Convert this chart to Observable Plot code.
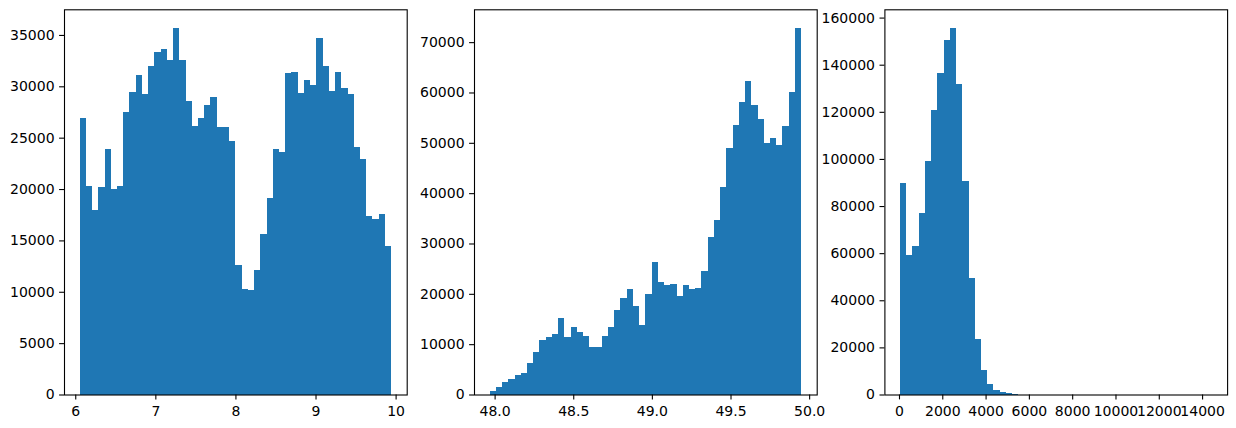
<!DOCTYPE html>
<html>
<head>
<meta charset="utf-8">
<script src="https://cdn.jsdelivr.net/npm/d3@7"></script>
<script src="https://cdn.jsdelivr.net/npm/@observablehq/plot@0.6"></script>
<style>
  html, body { margin: 0; padding: 0; background: white; }
  #wrap { position: relative; width: 1236px; height: 428px; overflow: hidden; }
  .panel { position: absolute; top: 0; }
  .panel svg text { font-family: 'DejaVu Sans', sans-serif !important; font-size: 14px !important; fill: black; }
</style>
</head>
<body>
<div id="wrap"></div>
<script>
// ---- Panel 1 histogram (50 bins) ----
const range1 = [6.054, 9.944];
const counts1 = [26950, 20330, 17970, 20230, 23930, 19970, 20330, 27530, 29480, 31140,
                 29290, 32010, 33380, 33670, 32600, 35710, 32600, 28610, 26170, 26950,
                 28220, 29000, 26070, 26070, 24710, 12630, 10290, 10200, 12150, 15650,
                 19160, 23930, 23640, 31330, 31430, 29390, 30650, 30160, 34740, 32010,
                 29550, 31430, 29870, 29290, 24120, 22950, 17400, 17110, 17600, 14480];
const xTicks1 = [6, 7, 8, 9, 10];
const yTicks1 = [0, 5000, 10000, 15000, 20000, 25000, 30000, 35000];

// ---- Panel 2 histogram (50 bins) ----
const range2 = [47.968, 49.949];
const counts2 = [700, 1510, 2500, 3100, 3900, 4300, 6280, 8470, 10850, 11450,
                 12050, 15230, 11450, 13440, 12440, 11650, 9460, 9460, 11650, 13440,
                 16820, 19200, 20990, 17610, 13830, 20000, 26360, 22390, 21790, 21990,
                 19600, 21790, 20990, 21190, 24570, 31330, 34710, 41270, 49020, 53580,
                 58170, 62340, 57570, 54790, 50020, 51010, 49620, 53400, 60160, 72880];
const xTicks2 = [48.0, 48.5, 49.0, 49.5, 50.0];
const yTicks2 = [0, 10000, 20000, 30000, 40000, 50000, 60000, 70000];

// ---- Panel 3 histogram (50 bins) ----
const range3 = [46, 14436];
const counts3 = [89780, 59140, 62970, 77020, 99140, 120840, 136590, 150630, 155730, 131900,
                 90630, 49360, 23400, 10210, 4250, 1700, 850, 450, 300, 0,
                 0, 0, 0, 0, 0, 0, 0, 0, 0, 0,
                 0, 0, 0, 0, 0, 0, 0, 0, 0, 0,
                 0, 0, 0, 0, 0, 0, 0, 0, 0, 0];
const xTicks3 = [0, 2000, 4000, 6000, 8000, 10000, 12000, 14000];
const yTicks3 = [0, 20000, 40000, 60000, 80000, 100000, 120000, 140000, 160000];

const BLUE = "#1f77b4";
const FONT = 14;

function toBins(range, counts) {
  const [lo, hi] = range;
  const w = (hi - lo) / counts.length;
  return counts.map((c, i) => ({x1: lo + i * w, x2: lo + (i + 1) * w, y: c}))
               .filter(d => d.y > 0);
}

function panel(range, counts, xTicks, yTicks, xFmt, left, mLeft) {
  const bins = toBins(range, counts);
  const [lo, hi] = range;
  const pad = 0.05 * (hi - lo);
  const ymax = d3.max(counts) * 1.05;
  const chart = Plot.plot({
    width: 410,
    height: 428,
    marginLeft: mLeft,
    marginRight: 410 - mLeft - 342.7,
    marginTop: 9.3,
    marginBottom: 33.5,
    style: {fontFamily: "'DejaVu Sans', sans-serif", fontSize: FONT + "px", color: "black", background: "transparent", overflow: "visible"},
    x: {domain: [lo - pad, hi + pad]},
    y: {domain: [0, ymax]},
    marks: [
      Plot.rectY(bins, {x1: "x1", x2: "x2", y: "y", fill: BLUE, shapeRendering: "crispEdges"}),
      Plot.axisX({ticks: xTicks, tickFormat: xFmt, tickSize: 4.9, tickPadding: 6, label: null, strokeWidth: 1.1, fontSize: FONT}),
      Plot.axisY({ticks: yTicks, tickFormat: d => String(d), tickSize: 4.9, tickPadding: 5, label: null, strokeWidth: 1.1, fontSize: FONT}),
      Plot.frame({stroke: "black", strokeWidth: 1.1})
    ]
  });
  const div = document.createElement("div");
  div.className = "panel";
  div.style.left = left + "px";
  div.appendChild(chart);
  document.getElementById("wrap").appendChild(div);
}

panel(range1, counts1, xTicks1, yTicks1, d => String(d), 0, 64);
panel(range2, counts2, xTicks2, yTicks2, d3.format(".1f"), 410, 64);
panel(range3, counts3, xTicks3, yTicks3, d => String(d), 820, 64.4);
</script>
</body>
</html>
